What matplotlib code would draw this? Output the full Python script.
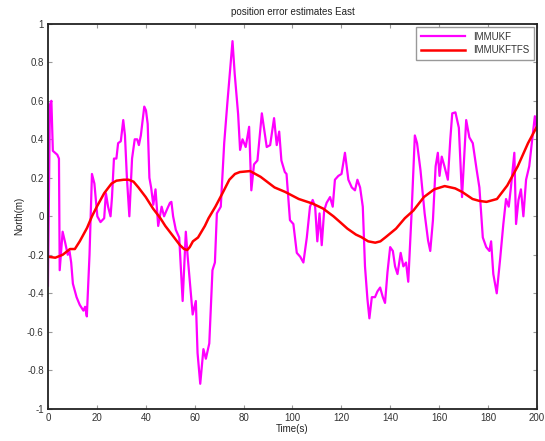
import numpy as np
import matplotlib
matplotlib.use("Agg")
import matplotlib.pyplot as plt

plt.rcParams['font.family'] = ['Liberation Sans', 'DejaVu Sans']
plt.rcParams['axes.unicode_minus'] = False

# IMMUKF estimate
t_kf = [0, 0.8, 1.4, 2.0, 3.8, 4.5, 4.8, 6.0, 7.1, 8.1, 8.8, 9.5, 10.2, 11.7, 13.0,
        14.5, 15.2, 15.9, 17.0, 18.0, 19.0, 20.2, 21.5, 23.0, 23.7, 24.6, 25.6, 26.2,
        27.0, 28.0, 28.7, 29.8, 30.8, 31.5, 32.3, 33.3, 34.4, 35.5, 36.5, 37.2, 38.0,
        39.4, 40.1, 40.8, 41.5, 42.2, 43.1, 44.0, 45.1, 46.5, 47.5, 48.5, 49.9, 50.5,
        51.2, 52.3, 53.7, 55.1, 56.4, 57.1, 59.2, 60.5, 61.2, 62.3, 63.6, 64.6, 66.0,
        67.3, 68.3, 69.1, 70.7, 72.1, 73.4, 75.5, 76.4, 77.8, 78.6, 79.6, 80.9, 82.3,
        83.2, 84.3, 85.7, 87.5, 89.5, 90.9, 92.5, 93.6, 94.6, 95.5, 96.9, 97.6, 99.0,
        100.4, 101.8, 103.2, 104.5, 105.9, 107.2, 108.3, 109.3, 110.2, 111.1, 112.0,
        113.0, 114.0, 115.4, 116.5, 117.4, 118.8, 120.1, 121.5, 122.9, 124.3, 125.6,
        126.6, 127.7, 128.8, 129.7, 130.7, 131.5, 132.5, 133.8, 134.8, 135.9, 137.0,
        137.9, 138.9, 140.0, 141.1, 142.0, 143.0, 144.3, 145.4, 146.5, 147.4, 148.7,
        150.1, 151.0, 152.4, 154.1, 155.5, 156.4, 157.5, 158.6, 159.5, 160.2, 161.1,
        162.2, 163.6, 164.6, 165.4, 166.7, 168.1, 169.4, 171.1, 172.4, 173.8, 175.4,
        176.5, 177.9, 179.3, 180.6, 181.3, 182.2, 183.6, 185.0, 186.3, 187.4, 188.5,
        189.4, 190.8, 191.5, 192.5, 193.5, 194.5, 195.6, 196.9, 198.2, 199.2, 200.0]
v_kf = [-0.36, 0.58, 0.6, 0.34, 0.32, 0.3, -0.28, -0.08, -0.14, -0.2, -0.18, -0.24, -0.35,
        -0.42, -0.46, -0.49, -0.47, -0.52, -0.2, 0.22, 0.17, 0.0, -0.03, -0.01, 0.12, 0.05,
        0.0, 0.1, 0.3, 0.3, 0.38, 0.39, 0.5, 0.42, 0.2, 0.0, 0.3, 0.4, 0.4, 0.37, 0.42,
        0.57, 0.55, 0.48, 0.2, 0.15, 0.06, 0.14, -0.05, 0.05, 0.0, 0.03, 0.07, 0.075,
        0.0, -0.07, -0.11, -0.44, -0.08, -0.2, -0.51, -0.44, -0.71, -0.87, -0.69, -0.74,
        -0.66, -0.28, -0.24, 0.015, 0.05, 0.38, 0.59, 0.91, 0.74, 0.53, 0.345, 0.40, 0.36,
        0.465, 0.135, 0.27, 0.29, 0.535, 0.36, 0.37, 0.51, 0.37, 0.44, 0.29, 0.23, 0.22,
        -0.02, -0.04, -0.19, -0.21, -0.24, -0.11, 0.05, 0.085, 0.05, -0.13, 0.015, -0.15,
        0.03, 0.07, 0.1, 0.05, 0.19, 0.21, 0.22, 0.33, 0.19, 0.15, 0.135, 0.19, 0.15,
        0.05, -0.26, -0.43, -0.53, -0.42, -0.42, -0.39, -0.37, -0.42, -0.45, -0.29, -0.16,
        -0.18, -0.26, -0.30, -0.19, -0.26, -0.24, -0.34, 0.0, 0.42, 0.38, 0.24, 0.015,
        -0.125, -0.18, -0.02, 0.26, 0.33, 0.21, 0.31, 0.26, 0.19, 0.4, 0.535, 0.54, 0.46,
        0.1, 0.5, 0.41, 0.38, 0.24, 0.15, -0.11, -0.16, -0.18, -0.13, -0.3, -0.4, -0.22,
        -0.04, 0.09, 0.05, 0.15, 0.33, -0.04, 0.085, 0.14, 0.0, 0.19, 0.26, 0.41, 0.52, 0.45]

# IMMUKFTFS estimate (smooth)
t_fs = [0, 3, 6, 9, 11, 13, 16, 18, 20, 23, 26, 28, 31, 33, 35, 37, 40, 43, 46, 48,
        51.5, 54, 55.7, 57, 58, 59.3, 61.4, 64.2, 65.7, 68.5, 71.4, 74.2, 76.5, 78.5,
        82.7, 87, 92.7, 97, 102.6, 108.3, 112.6, 116.8, 119.5, 122.5, 126, 128.2, 131,
        133.9, 136, 138.2, 142.4, 146, 149.5, 153.8, 158, 162.3, 166.6, 169.4, 173.7,
        176.5, 179.4, 183.7, 187.9, 192.2, 196.4, 200]
v_fs = [-0.21, -0.215, -0.2, -0.17, -0.17, -0.13, -0.06, 0.0, 0.05, 0.12, 0.17, 0.185,
        0.19, 0.19, 0.18, 0.15, 0.1, 0.04, -0.01, -0.05, -0.108, -0.15, -0.17, -0.175,
        -0.16, -0.13, -0.11, -0.05, -0.01, 0.05, 0.12, 0.19, 0.22, 0.23, 0.235, 0.205,
        0.15, 0.127, 0.09, 0.066, 0.04, 0.0, -0.03, -0.064, -0.095, -0.108, -0.13, -0.137,
        -0.13, -0.108, -0.064, -0.01, 0.03, 0.10, 0.14, 0.157, 0.145, 0.127, 0.09, 0.08,
        0.075, 0.09, 0.16, 0.26, 0.38, 0.465]

x_ticks = list(range(0, 201, 20))
y_ticks = [-1, -0.8, -0.6, -0.4, -0.2, 0, 0.2, 0.4, 0.6, 0.8, 1]
y_labels = ['-1', '-0.8', '-0.6', '-0.4', '-0.2', '0', '0.2', '0.4', '0.6', '0.8', '1']

fig = plt.figure(figsize=(5.45, 4.41), dpi=100)
ax = fig.add_axes([0.088, 0.073, 0.897, 0.873])

ax.plot(t_kf, v_kf, color='#ff00ff', lw=1.6, label='IMMUKF')
ax.plot(t_fs, v_fs, color='#ff0000', lw=1.8, label='IMMUKFTFS')

ax.set_xlim(0, 200)
ax.set_ylim(-1, 1)
ax.set_xticks(x_ticks)
ax.set_yticks(y_ticks)
ax.set_yticklabels(y_labels)
ax.tick_params(direction='in', top=True, right=True, labelsize=7, length=3,
               color='#999999', labelcolor='#333333', pad=3)
for s in ax.spines.values():
    s.set_linewidth(1.3)
    s.set_color('#222222')

ax.set_title('position error estimates East', fontsize=7, pad=6, color='#222222')
ax.set_xlabel('Time(s)', fontsize=7, labelpad=1, color='#222222')
ax.set_ylabel('North(m)', fontsize=7, labelpad=2, color='#222222')

leg = ax.legend(loc='upper right', fontsize=7, fancybox=False, framealpha=1,
                borderaxespad=0.3, handlelength=4.5, borderpad=0.5, labelspacing=0.4)
leg.get_frame().set_edgecolor('#999999')
leg.get_frame().set_linewidth(1.0)
for t in leg.get_texts():
    t.set_color('#333333')

fig.savefig('out.png', dpi=100)
